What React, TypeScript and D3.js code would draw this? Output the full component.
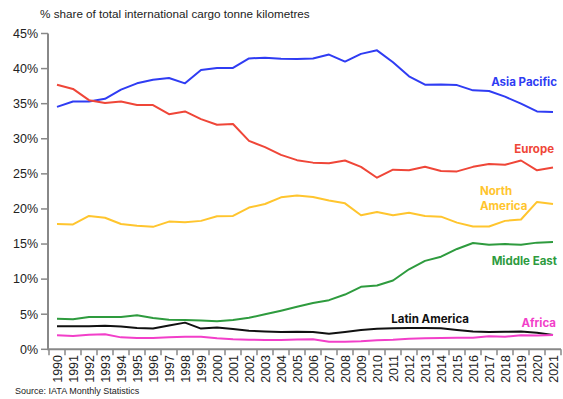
import React from "react";
import * as d3 from "d3";

const years = d3.range(1990, 2022).map(String);
const asiaPacific = [34.55, 35.3, 35.3, 35.7, 37.0, 37.9, 38.4, 38.65, 37.9, 39.8, 40.1, 40.1, 41.45, 41.55, 41.4, 41.35, 41.45, 42.0, 41.0, 42.1, 42.6, 40.9, 38.9, 37.7, 37.75, 37.65, 36.9, 36.8, 36.0, 35.0, 33.9, 33.8];
const europe = [37.7, 37.1, 35.5, 35.1, 35.3, 34.8, 34.8, 33.5, 33.9, 32.8, 32.0, 32.1, 29.7, 28.8, 27.7, 26.95, 26.6, 26.5, 26.9, 26.0, 24.45, 25.6, 25.5, 26.0, 25.4, 25.35, 26.0, 26.4, 26.3, 26.9, 25.5, 25.9];
const northAmerica = [17.85, 17.8, 19.0, 18.75, 17.85, 17.6, 17.45, 18.2, 18.1, 18.3, 18.95, 19.0, 20.2, 20.7, 21.65, 21.9, 21.7, 21.2, 20.8, 19.1, 19.55, 19.1, 19.45, 19.0, 18.9, 18.05, 17.5, 17.5, 18.3, 18.5, 21.0, 20.7];
const middleEast = [4.36, 4.27, 4.6, 4.6, 4.6, 4.84, 4.46, 4.22, 4.17, 4.1, 3.98, 4.17, 4.5, 4.98, 5.5, 6.05, 6.6, 7.0, 7.8, 8.9, 9.1, 9.8, 11.4, 12.6, 13.2, 14.3, 15.15, 14.9, 15.0, 14.9, 15.2, 15.3];
const latinAmerica = [3.3, 3.3, 3.3, 3.35, 3.25, 3.03, 2.95, 3.4, 3.8, 2.95, 3.1, 2.9, 2.65, 2.55, 2.47, 2.5, 2.47, 2.22, 2.47, 2.75, 2.94, 3.0, 3.05, 3.05, 2.99, 2.75, 2.55, 2.45, 2.5, 2.55, 2.37, 2.04];
const africa = [1.99, 1.9, 2.08, 2.13, 1.7, 1.62, 1.62, 1.7, 1.8, 1.8, 1.56, 1.42, 1.37, 1.33, 1.33, 1.38, 1.42, 1.09, 1.09, 1.14, 1.28, 1.37, 1.52, 1.56, 1.6, 1.65, 1.65, 1.85, 1.8, 2.0, 1.95, 2.04];
const yTicks = [0, 5, 10, 15, 20, 25, 30, 35, 40, 45];

const series = [
  { name: "Asia Pacific", values: asiaPacific, color: "#2f3cf3", label: ["Asia Pacific"], lx: 557, ly: 86, anchor: "end" },
  { name: "Europe", values: europe, color: "#ef4638", label: ["Europe"], lx: 554, ly: 153, anchor: "end" },
  { name: "North America", values: northAmerica, color: "#ffc52e", label: ["North", "America"], lx: 480, ly: 195, anchor: "start" },
  { name: "Middle East", values: middleEast, color: "#2e9b3e", label: ["Middle East"], lx: 557, ly: 265, anchor: "end" },
  { name: "Latin America", values: latinAmerica, color: "#111111", label: ["Latin America"], lx: 469, ly: 323, anchor: "end" },
  { name: "Africa", values: africa, color: "#f23fc9", label: ["Africa"], lx: 556, ly: 327, anchor: "end" },
];

export default function App() {
  const W = 563, H = 399;
  const x = d3.scaleBand<string>().domain(years).range([49, 561]);
  const y = d3.scaleLinear().domain([0, 45]).range([349.3, 33.5]);
  const cx = (yr: string) => (x(yr) as number) + x.bandwidth() / 2;
  const line = d3.line<number>().x((_, i) => cx(years[i])).y((v) => y(v));
  const axisColor = "#888";
  const font = "'Liberation Sans', Arial, sans-serif";
  return (
    <svg width={W} height={H} style={{ position: "absolute", left: 0, top: 0, background: "#fff" }}>
      <text x={40} y={18} fontFamily={font} fontSize={11.7} fill="#222">% share of total international cargo tonne kilometres</text>
      {/* y axis */}
      <line x1={48} x2={48} y1={y(45)} y2={y(0) + 1} stroke={axisColor} strokeWidth={2} />
      {yTicks.map((t) => (
        <g key={t}>
          <line x1={41} x2={48} y1={y(t)} y2={y(t)} stroke={axisColor} strokeWidth={1.5} />
          <text x={38} y={y(t)} dy="0.35em" textAnchor="end" fontFamily={font} fontSize={12.5} fill="#222">{t}%</text>
        </g>
      ))}
      {/* x axis */}
      <line x1={48} x2={561} y1={y(0)} y2={y(0)} stroke={axisColor} strokeWidth={2} />
      {years.concat(["end"]).map((yr, i) => {
        const px = 49 + i * x.step();
        return <line key={"t" + i} x1={px} x2={px} y1={y(0)} y2={y(0) + 6} stroke={axisColor} strokeWidth={1.5} />;
      })}
      {years.map((yr) => (
        <text key={yr} transform={`translate(${cx(yr) + 4.5},355) rotate(-90)`} textAnchor="end" fontFamily={font} fontSize={12.5} fill="#222">{yr}</text>
      ))}
      {series.map((s) => (
        <path key={s.name} d={line(s.values) || ""} fill="none" stroke={s.color} strokeWidth={2} strokeLinejoin="round" />
      ))}
      {series.map((s) => (
        <text key={s.name + "l"} x={s.lx} y={s.ly} textAnchor={s.anchor as any} fontFamily="Inter, 'Noto Sans', sans-serif" fontWeight={700} fontSize={11.5} fill={s.color}>
          {s.label.map((l, i) => (
            <tspan key={i} x={s.lx} dy={i === 0 ? 0 : 15}>{l}</tspan>
          ))}
        </text>
      ))}
      <text x={15} y={394} fontFamily={font} fontSize={9} fill="#222">Source: IATA Monthly Statistics</text>
    </svg>
  );
}
